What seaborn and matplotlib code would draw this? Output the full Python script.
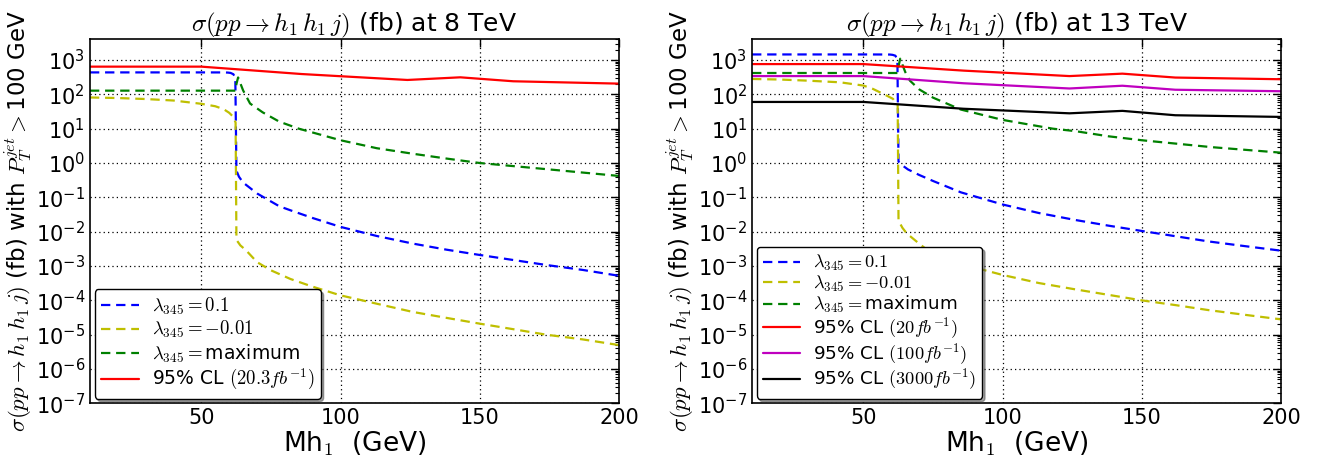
import numpy as np
import pandas as pd
import matplotlib
matplotlib.use("Agg")
import matplotlib.pyplot as plt
import seaborn as sns
from matplotlib.ticker import LogLocator, FixedLocator, NullFormatter

# ---------------- data: 8 TeV ----------------
l8_blue_x = [10, 30, 50, 58, 59.5, 60.5, 61.5, 62.2, 62.6, 63.5, 65, 70, 78, 82, 90, 100, 113, 126, 138, 150, 162, 174, 187, 200]
l8_blue_y = [435, 435, 435, 434, 430, 420, 385, 300, 0.6, 0.4, 0.27, 0.13, 0.055, 0.042, 0.025, 0.0138, 0.0075, 0.0045, 0.003, 0.0021, 0.0015, 0.00107, 0.00077, 0.00052]

l8_yel_x = [10, 20, 30, 40, 50, 55, 58, 60, 61.5, 62.3, 62.6, 64, 66, 70, 75, 82, 90, 100, 113, 126, 138, 150, 162, 174, 187, 200]
l8_yel_y = [81, 78, 73, 66, 53, 45, 37, 29, 22, 15, 0.0058, 0.004, 0.0029, 0.0013, 0.00075, 0.00042, 0.00025, 0.00014, 8e-5, 4.6e-5, 3.1e-5, 2.1e-5, 1.45e-5, 1.0e-5, 7.3e-6, 5.0e-6]

l8_grn_x = [10, 62.3, 62.6, 63.2, 65, 67.5, 72, 78, 85, 100, 113, 126, 138, 150, 175, 200]
l8_grn_y = [128, 128, 200, 310, 130, 54, 30, 16, 10, 4.6, 2.7, 1.86, 1.35, 1.0, 0.65, 0.42]

l8_red_x = [10, 50, 86, 124, 143, 162, 200]
l8_red_y = [640, 640, 390, 262, 313, 240, 205]

# ---------------- data: 13 TeV ----------------
r13_blue_x = [10, 30, 50, 58, 59.5, 60.5, 61.5, 62.2, 62.6, 64, 66, 70, 75, 85, 100, 113, 126, 138, 150, 162, 174, 187, 200]
r13_blue_y = [1450, 1450, 1450, 1445, 1440, 1410, 1330, 1000, 1.1, 0.85, 0.65, 0.45, 0.3, 0.14, 0.062, 0.035, 0.022, 0.015, 0.0105, 0.0074, 0.0052, 0.0038, 0.0028]

r13_yel_x = [10, 20, 30, 41.6, 50, 53.4, 58, 60.6, 62.3, 62.6, 64, 65.5, 70, 73, 80, 90, 100, 113, 126, 138, 150, 162, 174, 187, 200]
r13_yel_y = [280, 270, 250, 224, 180, 144, 95, 74, 50, 0.021, 0.013, 0.009, 0.0045, 0.0029, 0.0016, 0.0009, 0.00055, 0.00032, 0.00021, 0.000145, 0.0001, 7.3e-5, 5.2e-5, 3.8e-5, 2.8e-5]

r13_grn_x = [10, 62.3, 62.6, 63.2, 65, 66.7, 70, 75, 85, 100, 118, 126, 138, 150, 175, 200]
r13_grn_y = [418, 418, 650, 1090, 450, 250, 140, 80, 36, 18, 10, 8.5, 6, 4.6, 2.9, 2.0]

cl_x = [10, 50, 86, 124, 143, 162, 200]
r13_red_y = [760, 760, 490, 340, 400, 308, 275]
r13_mag_y = [340, 340, 210, 148, 178, 136, 123]
r13_blk_y = [60, 60, 38, 28, 33, 24.6, 22]

xticks = [50, 100, 150, 200]

sns.set_style("white")
plt.rcParams['font.family'] = ['DejaVu Sans']
plt.rcParams['mathtext.fontset'] = 'cm'
plt.rcParams['mathtext.default'] = 'it'
plt.rcParams['axes.unicode_minus'] = False
for k in ['text.color', 'axes.labelcolor', 'xtick.color', 'ytick.color']:
    plt.rcParams[k] = 'black'

fig = plt.figure(figsize=(13.21, 4.68), dpi=100)
ax1 = fig.add_axes([0.0681, 0.138, 0.4005, 0.778])
ax2 = fig.add_axes([0.5693, 0.138, 0.4005, 0.778])

DASH = (4.2, 2.6)
LW = 1.6

def line(ax, x, y, color, label, dashed):
    df = pd.DataFrame({"x": x, "y": y})
    l = sns.lineplot(data=df, x="x", y="y", ax=ax, color=color, lw=LW, label=label,
                     estimator=None, sort=False)
    if dashed:
        l.lines[-1].set_dashes(DASH)

line(ax1, l8_blue_x, l8_blue_y, "#0000ff", r"$\lambda_{345}=0.1$", True)
line(ax1, l8_yel_x, l8_yel_y, "#bfbf00", r"$\lambda_{345}=-0.01$", True)
line(ax1, l8_grn_x, l8_grn_y, "#008000", r"$\lambda_{345}=$maximum", True)
line(ax1, l8_red_x, l8_red_y, "#ff0000", r"95% CL $(20.3fb^{-1})$", False)

line(ax2, r13_blue_x, r13_blue_y, "#0000ff", r"$\lambda_{345}=0.1$", True)
line(ax2, r13_yel_x, r13_yel_y, "#bfbf00", r"$\lambda_{345}=-0.01$", True)
line(ax2, r13_grn_x, r13_grn_y, "#008000", r"$\lambda_{345}=$maximum", True)
line(ax2, cl_x, r13_red_y, "#ff0000", r"95% CL $(20fb^{-1})$", False)
line(ax2, cl_x, r13_mag_y, "#bf00bf", r"95% CL $(100fb^{-1})$", False)
line(ax2, cl_x, r13_blk_y, "#000000", r"95% CL $(3000fb^{-1})$", False)

titles = [r"$\sigma(pp\rightarrow h_1\,h_1\,j)$ (fb) at 8 TeV",
          r"$\sigma(pp\rightarrow h_1\,h_1\,j)$ (fb) at 13 TeV"]
leg_fs = [13.5, 13.2]
leg_sp = [0.12, 0.02]

for ax, t, fs, sp in zip([ax1, ax2], titles, leg_fs, leg_sp):
    ax.set_yscale("log")
    ax.set_xlim(10, 200)
    ax.set_ylim(1e-7, 4e3)
    ax.xaxis.set_major_locator(FixedLocator(xticks))
    ax.yaxis.set_major_locator(LogLocator(base=10, numticks=20))
    ax.yaxis.set_minor_locator(LogLocator(base=10, subs=np.arange(2, 10), numticks=20))
    ax.yaxis.set_minor_formatter(NullFormatter())
    ax.tick_params(which="both", direction="in", top=True, right=True, labelsize=15)
    ax.tick_params(which="major", length=6, width=1)
    ax.tick_params(which="minor", length=3, width=0.8)
    ax.grid(True, which="major", color="black", linestyle=(0, (1, 2.5)), linewidth=0.9)
    for s in ax.spines.values():
        s.set_color("black")
        s.set_linewidth(1.2)
    ax.set_title(t, fontsize=18, pad=6)
    ax.set_xlabel(r"Mh$_1$  (GeV)", fontsize=19, labelpad=1)
    ax.set_ylabel(r"$\sigma(pp\rightarrow h_1\,h_1\,j)$ (fb) with $P_T^{jet}>$100 GeV", fontsize=16.5, labelpad=1)
    leg = ax.legend(loc="lower left", fontsize=fs, handlelength=2.0, frameon=True,
                    fancybox=True, shadow=True, borderaxespad=0.25, labelspacing=sp,
                    borderpad=0.35, handletextpad=0.7)
    leg.get_frame().set_edgecolor("black")
    leg.get_frame().set_linewidth(1.0)

fig.savefig("out.png", dpi=100)
